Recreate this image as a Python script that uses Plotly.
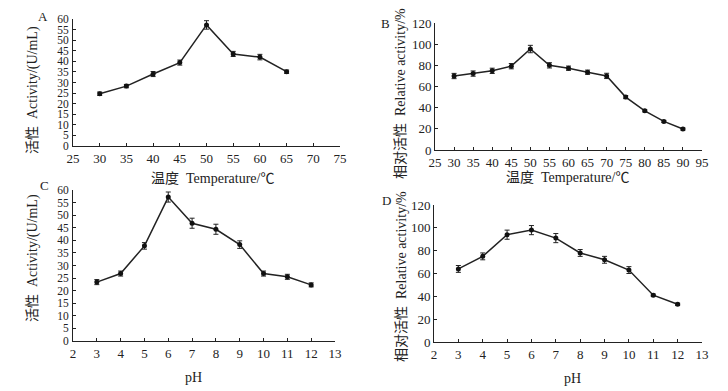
import plotly.graph_objects as go

# Panel A: temperature vs activity
temp_a = [30, 35, 40, 45, 50, 55, 60, 65]
act_a = [24.7, 28.3, 34.0, 39.4, 57.2, 43.5, 42.0, 35.1]
err_a = [0.8, 0.8, 1.2, 1.2, 2.0, 1.2, 1.3, 0.8]

# Panel B: temperature vs relative activity
temp_b = [30, 35, 40, 45, 50, 55, 60, 65, 70, 75, 80, 85, 90]
rel_b = [69.9, 72.2, 74.8, 79.2, 95.4, 80.0, 77.3, 73.5, 70.0, 50.0, 37.0, 27.0, 19.8]
err_b = [2.5, 2.5, 2.5, 2.5, 3.5, 2.5, 2.0, 2.0, 2.5, 1.5, 1.0, 1.0, 1.0]

# Panel C: pH vs activity
ph_c = [3, 4, 5, 6, 7, 8, 9, 10, 11, 12]
act_c = [23.4, 26.8, 37.8, 57.2, 46.8, 44.4, 38.3, 26.8, 25.5, 22.3]
err_c = [1.0, 1.0, 1.3, 2.0, 2.0, 2.0, 1.5, 1.0, 1.0, 0.8]

# Panel D: pH vs relative activity
ph_d = [3, 4, 5, 6, 7, 8, 9, 10, 11, 12]
rel_d = [64.0, 75.0, 94.0, 98.0, 91.0, 78.0, 72.0, 63.0, 41.0, 33.0]
err_d = [3.0, 3.0, 4.0, 4.0, 4.0, 3.0, 3.0, 3.0, 1.0, 1.0]

panel_labels = ["A", "B", "C", "D"]
ytitle_act = "活性  Activity/(U/mL)"
ytitle_rel = "相对活性  Relative activity/%"
xtitle_temp = "温度  Temperature/℃"
xtitle_ph = "pH"

FONT = "Liberation Serif, Noto Sans CJK SC, serif"
W, H = 728, 391
INK = "#222"

fig = go.Figure()

def px_x(a, b):
    return [a / W, b / W]

def px_y(top, bottom):
    return [1 - bottom / H, 1 - top / H]

series = [
    (temp_a, act_a, err_a, "x", "y"),
    (temp_b, rel_b, err_b, "x2", "y2"),
    (ph_c, act_c, err_c, "x3", "y3"),
    (ph_d, rel_d, err_d, "x4", "y4"),
]
for xs, ys, es, xa, ya in series:
    fig.add_trace(go.Scatter(
        x=xs, y=ys, xaxis=xa, yaxis=ya, mode="lines+markers",
        line=dict(color=INK, width=1.5),
        marker=dict(color="#111", size=5, symbol="circle"),
        error_y=dict(type="data", array=es, color=INK, thickness=1, width=2.5),
        showlegend=False, hoverinfo="skip",
    ))

axis_common = dict(
    showline=True, linecolor=INK, linewidth=1, ticks="inside", ticklen=3,
    tickcolor=INK, showgrid=False, zeroline=False, mirror=False,
    tickfont=dict(family=FONT, size=13, color=INK),
    fixedrange=True, automargin=False,
)
small_y = dict(family=FONT, size=11.5, color=INK)

layout = dict(
    width=W, height=H, margin=dict(l=0, r=0, t=0, b=0, autoexpand=False),
    paper_bgcolor="white", plot_bgcolor="white",
    font=dict(family=FONT, color=INK),
)

layout["xaxis"] = dict(axis_common, domain=px_x(73, 340), range=[25, 75],
                       tickvals=list(range(25, 80, 5)), anchor="y")
layout["yaxis"] = dict(axis_common, domain=px_y(19, 146), range=[0, 60], dtick=5, anchor="x",
                       tickfont=small_y, ticklabelstandoff=1)
layout["xaxis2"] = dict(axis_common, domain=px_x(435, 702), range=[25, 95],
                        tickvals=list(range(25, 100, 5)), anchor="y2")
layout["yaxis2"] = dict(axis_common, domain=px_y(23, 150), range=[0, 120], dtick=20, anchor="x2")
layout["xaxis3"] = dict(axis_common, domain=px_x(73, 335), range=[2, 13],
                        tickvals=list(range(2, 14)), anchor="y3")
layout["yaxis3"] = dict(axis_common, domain=px_y(190, 341), range=[0, 60], dtick=5, anchor="x3",
                        tickfont=small_y, ticklabelstandoff=1)
layout["xaxis4"] = dict(axis_common, domain=px_x(434, 702), range=[2, 13],
                        tickvals=list(range(2, 14)), anchor="y4")
layout["yaxis4"] = dict(axis_common, domain=px_y(205, 342), range=[0, 120], dtick=20, anchor="x4")

annotations = []
label_pos = [(43, 16), (385, 24), (44, 185), (386, 200)]
for lab, (lx, ly) in zip(panel_labels, label_pos):
    annotations.append(dict(text=lab, x=lx / W, y=1 - ly / H, xref="paper", yref="paper",
                            showarrow=False, font=dict(family=FONT, size=13, color=INK),
                            xanchor="center", yanchor="middle"))

# axis titles (text, x px, y px, angle)
titles = [
    (ytitle_act, 33, 90, -90),
    (ytitle_rel, 400, 94, -90),
    (ytitle_act, 33, 258, -90),
    (ytitle_rel, 401, 277, -90),
    (xtitle_temp, 212, 178, 0),
    (xtitle_temp, 567, 177, 0),
    (xtitle_ph, 193, 377, 0),
    (xtitle_ph, 572, 378, 0),
]
for txt, tx, ty, ang in titles:
    annotations.append(dict(text=txt, x=tx / W, y=1 - ty / H, xref="paper", yref="paper",
                            showarrow=False, textangle=ang,
                            font=dict(family=FONT, size=14, color=INK),
                            xanchor="center", yanchor="middle"))
layout["annotations"] = annotations

fig.update_layout(**layout)
fig.write_html(
    "out.html",
    config={"displayModeBar": False},
    post_script="document.body.style.margin='0';document.body.style.overflow='hidden';",
)
